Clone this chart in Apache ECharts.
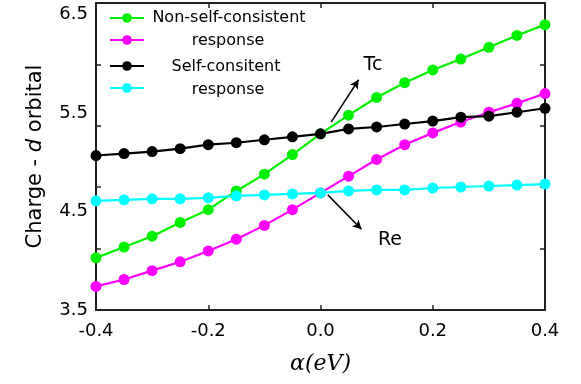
<!DOCTYPE html>
<html><head><meta charset="utf-8">
<script src="https://cdn.jsdelivr.net/npm/echarts@6/dist/echarts.min.js"></script>
<style>html,body{margin:0;padding:0;background:#fff}#c{width:581px;height:384px}</style>
</head><body><div id="c"></div>
<script>
var alpha = [-0.4,-0.35,-0.3,-0.25,-0.2,-0.15,-0.1,-0.05,0,0.05,0.1,0.15,0.2,0.25,0.3,0.35,0.4];
var nonSelfTc = [4.03,4.14,4.25,4.39,4.52,4.71,4.88,5.08,5.29,5.48,5.66,5.81,5.94,6.05,6.17,6.29,6.40];
var nonSelfRe = [3.74,3.81,3.90,3.99,4.10,4.22,4.36,4.52,4.69,4.86,5.03,5.18,5.30,5.41,5.51,5.60,5.70];
var selfTc = [5.07,5.09,5.11,5.14,5.18,5.20,5.23,5.26,5.29,5.34,5.36,5.39,5.42,5.46,5.47,5.51,5.55];
var selfRe = [4.61,4.62,4.63,4.63,4.64,4.66,4.67,4.68,4.69,4.71,4.72,4.72,4.74,4.75,4.76,4.77,4.78];
var xTickLabels = [-0.4,-0.2,0.0,0.2,0.4];
var yTickLabels = [3.5,4.5,5.5,6.5];
var yTickMarks = [4.124,4.748,5.372,5.996];
var xTickMarks = [-0.2,0,0.2];

function pairs(ys){ return alpha.map(function(a,i){return [a, ys[i]];}); }

var chart = echarts.init(document.getElementById('c'));
var FONT = 'DejaVu Sans';
var names = ['Non-self-consistent Tc','Non-self-consistent Re','Self-consistent Tc','Self-consistent Re'];
var colors = ['#00f000','#ff00ff','#000000','#00ffff'];
var vals = [nonSelfTc, nonSelfRe, selfTc, selfRe];
var legendTops = [12,34,60,82];

var series = vals.map(function(v,i){
  return {
    name: names[i], type:'line', data: pairs(v), symbol:'circle', symbolSize:11,
    itemStyle:{color:colors[i]}, lineStyle:{color:colors[i], width:2.2}, z: 3+i
  };
});
series[2].markLine = {
  silent:true, symbol:['none','arrow'], symbolSize:[7,9],
  lineStyle:{color:'#000', width:1.5, type:'solid'}, label:{show:false},
  data:[
    [{coord:[0.019,5.41]},{coord:[0.068,5.84]}],
    [{coord:[0.013,4.67]},{coord:[0.073,4.32]}]
  ]
};

var axisLineStyle = {color:'#222', width:2};
chart.setOption({
  animation:false,
  grid:{left:96,right:36,top:3,bottom:74},
  legend: names.map(function(n,i){
    return {data:[n], left:109, top:legendTops[i], orient:'vertical', itemWidth:34, itemHeight:12,
      formatter:function(){return '';}, padding:0, selectedMode:false};
  }),
  xAxis:[{
    type:'value', min:-0.4, max:0.4,
    name:'α(eV)', nameLocation:'middle', nameGap:43,
    nameTextStyle:{fontFamily:'DejaVu Serif', fontStyle:'italic', fontSize:22, color:'#000'},
    axisLine:{onZero:false, lineStyle:axisLineStyle},
    axisTick:{inside:true, length:5, customValues:xTickMarks, lineStyle:{color:'#222', width:1.5}},
    axisLabel:{customValues:xTickLabels, fontFamily:FONT, fontSize:18, color:'#000', margin:12,
      formatter:function(v){return v.toFixed(1);}},
    splitLine:{show:false}
  },{
    type:'value', position:'top', min:-0.4, max:0.4,
    axisLine:{show:true, onZero:false, lineStyle:axisLineStyle},
    axisTick:{inside:true, length:5, customValues:xTickMarks, lineStyle:{color:'#222', width:1.5}},
    axisLabel:{show:false}, splitLine:{show:false}
  }],
  yAxis:[{
    type:'value', min:3.5, max:6.62,
    name:'{a|Charge - }{i|d}{a| orbital}', nameLocation:'middle', nameGap:50,
    nameTextStyle:{rich:{a:{fontFamily:FONT, fontSize:21, color:'#000'}, i:{fontFamily:FONT, fontStyle:'italic', fontSize:21, color:'#000'}}},
    axisLine:{onZero:false, lineStyle:axisLineStyle},
    axisTick:{inside:true, length:5, customValues:yTickMarks, lineStyle:{color:'#222', width:1.5}},
    axisLabel:{customValues:yTickLabels, fontFamily:FONT, fontSize:18, color:'#000', margin:8,
      formatter:function(v){return v.toFixed(1);}},
    splitLine:{show:false}
  },{
    type:'value', position:'right', min:3.5, max:6.62,
    axisLine:{show:true, onZero:false, lineStyle:axisLineStyle},
    axisTick:{inside:true, length:5, customValues:yTickMarks, lineStyle:{color:'#222', width:1.5}},
    axisLabel:{show:false}, splitLine:{show:false}
  }],
  graphic:[
    {type:'text', x:229, y:18, style:{text:'Non-self-consistent', font:'16px "DejaVu Sans"', fill:'#000', align:'center', verticalAlign:'middle'}},
    {type:'text', x:228, y:41, style:{text:'response', font:'16px "DejaVu Sans"', fill:'#000', align:'center', verticalAlign:'middle'}},
    {type:'text', x:226, y:67, style:{text:'Self-consitent', font:'16px "DejaVu Sans"', fill:'#000', align:'center', verticalAlign:'middle'}},
    {type:'text', x:228, y:90, style:{text:'response', font:'16px "DejaVu Sans"', fill:'#000', align:'center', verticalAlign:'middle'}},
    {type:'text', x:373, y:65, style:{text:'Tc', font:'19px "DejaVu Sans"', fill:'#000', align:'center', verticalAlign:'middle'}},
    {type:'text', x:390, y:240, style:{text:'Re', font:'19px "DejaVu Sans"', fill:'#000', align:'center', verticalAlign:'middle'}}
  ],
  series: series
});
</script></body></html>
